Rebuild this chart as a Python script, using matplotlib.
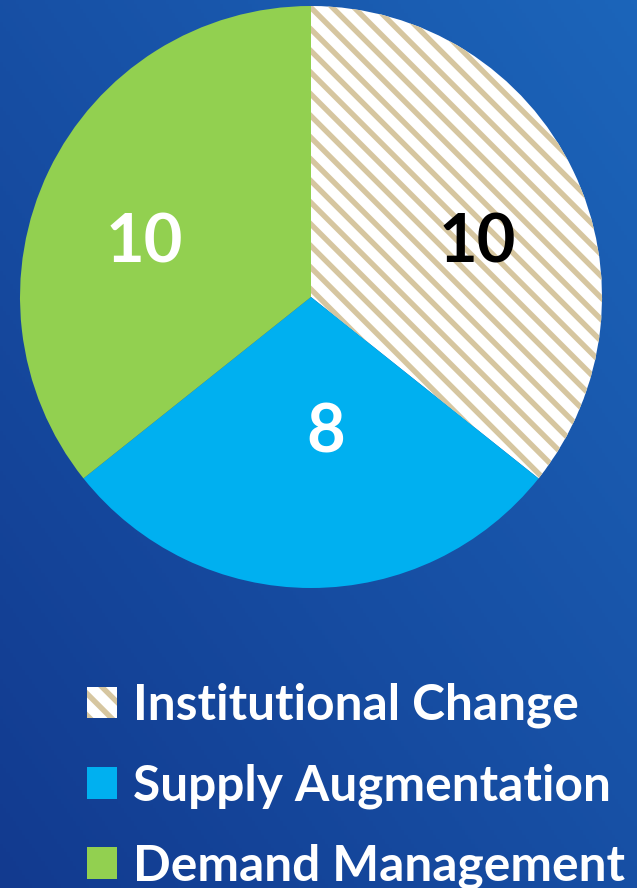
import numpy as np
import matplotlib
matplotlib.use("Agg")
import matplotlib.pyplot as plt
from matplotlib.colors import LinearSegmentedColormap

# data
categories = ["Institutional Change", "Supply Augmentation", "Demand Management"]
counts = [10, 8, 10]
label_colors = ["black", "white", "white"]

plt.rcParams["font.family"] = ["Lato", "DejaVu Sans"]
plt.rcParams["hatch.linewidth"] = 3.0

DPI = 130
fig = plt.figure(figsize=(637 / DPI, 888 / DPI), dpi=DPI)

# background gradient (lighter top-right, darker bottom-left)
bg = fig.add_axes([0, 0, 1, 1], zorder=0)
yy, xx = np.mgrid[0:1:200j, 0:1:200j]
grad = (xx + (1 - yy)) / 2
cmap = LinearSegmentedColormap.from_list("bg", ["#123a8f", "#1c65ba"])
bg.imshow(grad, cmap=cmap, aspect="auto", extent=[0, 1, 0, 1], origin="upper")
bg.axis("off")

ax = fig.add_axes([20 / 637, 1 - 588 / 888, 582 / 637, 582 / 888], zorder=1)
wedges, _ = ax.pie(counts, startangle=90, counterclock=False, radius=1,
                   colors=["white", "#00b0f0", "#92d050"])
wedges[0].set_hatch("\\\\")
wedges[0].set_edgecolor("#d6c6a0")
wedges[0].set_linewidth(0)
for w in wedges[1:]:
    w.set_linewidth(0)

# value labels
label_r = [0.6, 0.47, 0.6]
label_shift = [-8, 6, 8]
for w, v, c, r, s in zip(wedges, counts, label_colors, label_r, label_shift):
    ang = np.deg2rad((w.theta1 + w.theta2) / 2 + s)
    ax.text(r * np.cos(ang), r * np.sin(ang), str(v), color=c, fontsize=37,
            fontweight="bold", ha="center", va="center")
ax.set_xlim(-1, 1)
ax.set_ylim(-1, 1)
ax.axis("off")

leg = fig.legend(wedges, categories, loc="upper left",
                 bbox_to_anchor=(87 / 637, 1 - 683 / 888), frameon=False,
                 fontsize=27.5, labelcolor="white", handlelength=0.6,
                 handleheight=0.6, handletextpad=0.32, labelspacing=0.70,
                 borderpad=0, borderaxespad=0)
for t in leg.get_texts():
    t.set_fontweight("bold")

fig.savefig("out.png", dpi=DPI)
